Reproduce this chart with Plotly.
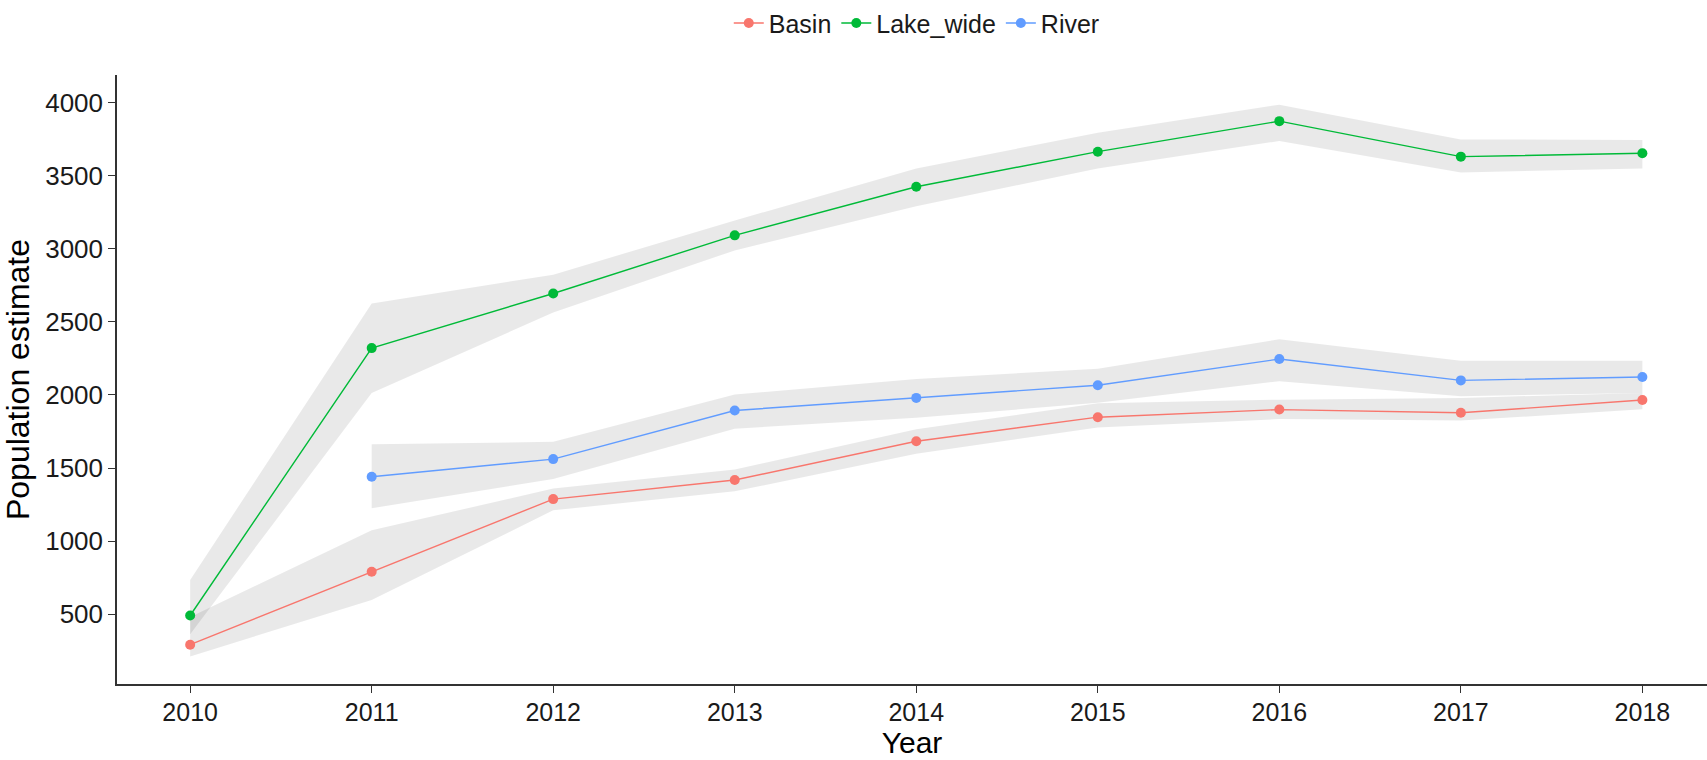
import plotly.graph_objects as go

# Survey years
years = [2010, 2011, 2012, 2013, 2014, 2015, 2016, 2017, 2018]

# Population estimates and their confidence bands, per stratum
basin = [290, 790, 1287, 1418, 1683, 1848, 1900, 1878, 1966]
basin_lo = [210, 596, 1210, 1340, 1598, 1778, 1835, 1825, 1902]
basin_hi = [480, 1073, 1360, 1490, 1765, 1944, 1968, 1980, 2014]

lake_wide = [490, 2321, 2695, 3093, 3426, 3666, 3875, 3632, 3655]
lake_wide_lo = [362, 2014, 2564, 2990, 3292, 3551, 3739, 3524, 3551]
lake_wide_hi = [733, 2627, 2824, 3195, 3551, 3796, 3988, 3750, 3746]

river_years = [2011, 2012, 2013, 2014, 2015, 2016, 2017, 2018]
river = [1440, 1561, 1894, 1980, 2067, 2246, 2100, 2123]
river_lo = [1225, 1425, 1769, 1844, 1946, 2094, 1991, 2014]
river_hi = [1663, 1679, 2003, 2110, 2180, 2382, 2235, 2235]

series = [
    ("Basin", years, basin, basin_lo, basin_hi, "#F8766D"),
    ("Lake_wide", years, lake_wide, lake_wide_lo, lake_wide_hi, "#00BA38"),
    ("River", river_years, river, river_lo, river_hi, "#619CFF"),
]

RIBBON = "rgba(0,0,0,0.085)"
FONT = "Liberation Sans, Arial, sans-serif"

fig = go.Figure()

# confidence ribbons first so the lines sit on top
for name, x, y, lo, hi, col in series:
    fig.add_trace(go.Scatter(
        x=x, y=lo, mode="lines", line=dict(width=0),
        showlegend=False, hoverinfo="skip"))
    fig.add_trace(go.Scatter(
        x=x, y=hi, mode="lines", line=dict(width=0),
        fill="tonexty", fillcolor=RIBBON,
        showlegend=False, hoverinfo="skip"))

for name, x, y, lo, hi, col in series:
    fig.add_trace(go.Scatter(
        x=x, y=y, name=name, mode="lines+markers",
        line=dict(color=col, width=1.4),
        marker=dict(color=col, size=10, symbol="circle"),
    ))

fig.update_layout(
    paper_bgcolor="white", plot_bgcolor="white",
    margin=dict(l=117, r=0, t=72, b=76),
    font=dict(family=FONT, size=26, color="#1a1a1a"),
    showlegend=True,
    legend=dict(
        orientation="h", x=0.503, xanchor="center",
        y=1.085, yanchor="middle",
        font=dict(size=25, color="#1a1a1a"),
        itemwidth=30, tracegroupgap=0, traceorder="normal",
        bgcolor="rgba(0,0,0,0)",
    ),
)

fig.update_xaxes(
    range=[2009.597, 2018.356],
    tickmode="array", tickvals=years, ticktext=[str(v) for v in years],
    showgrid=False, zeroline=False,
    showline=True, linecolor="#333333", linewidth=1.5,
    ticks="outside", ticklen=7, tickcolor="#333333", tickwidth=1.2,
    ticklabelstandoff=-2,
    tickfont=dict(size=25, color="#1a1a1a"),
    title=dict(text="Year", font=dict(size=30, color="#000000"), standoff=6),
)

fig.update_yaxes(
    range=[21, 4191],
    tickmode="array", tickvals=[500, 1000, 1500, 2000, 2500, 3000, 3500, 4000],
    showgrid=False, zeroline=False,
    showline=True, linecolor="#333333", linewidth=1.5,
    ticks="outside", ticklen=7, tickcolor="#333333", tickwidth=1.2,
    tickfont=dict(size=26, color="#1a1a1a"),
    title=dict(text="Population estimate", font=dict(size=32, color="#000000"), standoff=6),
)

fig.write_html("out.html")
